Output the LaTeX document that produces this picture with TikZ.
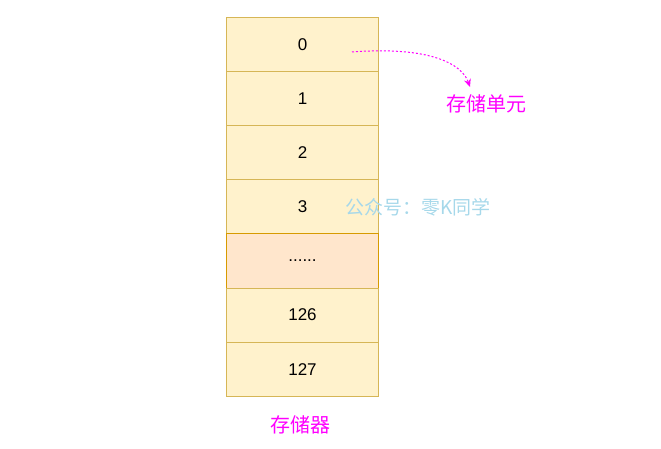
\documentclass[tikz,border=0pt]{standalone}
\usepackage{fontspec}
\setmainfont{Liberation Sans}
\newfontfamily\cjk{Noto Sans CJK SC}
\usetikzlibrary{arrows.meta}
\definecolor{cellfill}{HTML}{FFF2CC}
\definecolor{celldraw}{HTML}{D6B656}
\definecolor{dotfill}{HTML}{FFE6CC}
\definecolor{dotdraw}{HTML}{D79B00}
\definecolor{mag}{HTML}{FF00FF}
\definecolor{wm}{HTML}{A6D8EA}
\begin{document}
\begin{tikzpicture}[x=1pt,y=-1pt,
  cell/.style={draw=celldraw,fill=cellfill,line width=1pt,minimum width=152pt,minimum height=54.1pt,inner sep=0pt,font=\fontsize{17}{20}\selectfont,anchor=north west},
  dotcell/.style={cell,draw=dotdraw,fill=dotfill},
  lbl/.style={text=mag,font=\cjk\fontsize{20}{24}\selectfont}]
\useasboundingbox (0,0) rectangle (661,449);
\node[cell] (c0) at (226,17) {0};
\node[cell] (c1) at (226,71.1) {1};
\node[cell] (c2) at (226,125.2) {2};
\node[cell] (c3) at (226,179.3) {3};
\node[dotcell] (c4) at (226,233.4) {......};
\node[cell] (c5) at (226,287.5) {126};
\node[cell] (c6) at (226,341.6) {127};
\node[lbl] (mem) at (300,425) {存储器};
\node[lbl] (unit) at (486,104) {存储单元};
\node[text=wm,font=\cjk\fontsize{19}{23}\selectfont] (wmk) at (418,207) {公众号：零K同学};
\coordinate (s) at (352,52);
\coordinate (e) at (470,87);
\draw[mag,line width=1pt,dash pattern=on 2pt off 2pt,-{Stealth[length=8pt,width=7pt]}] (s) .. controls (430,46) and (462,64) .. (e);
\end{tikzpicture}
\end{document}
